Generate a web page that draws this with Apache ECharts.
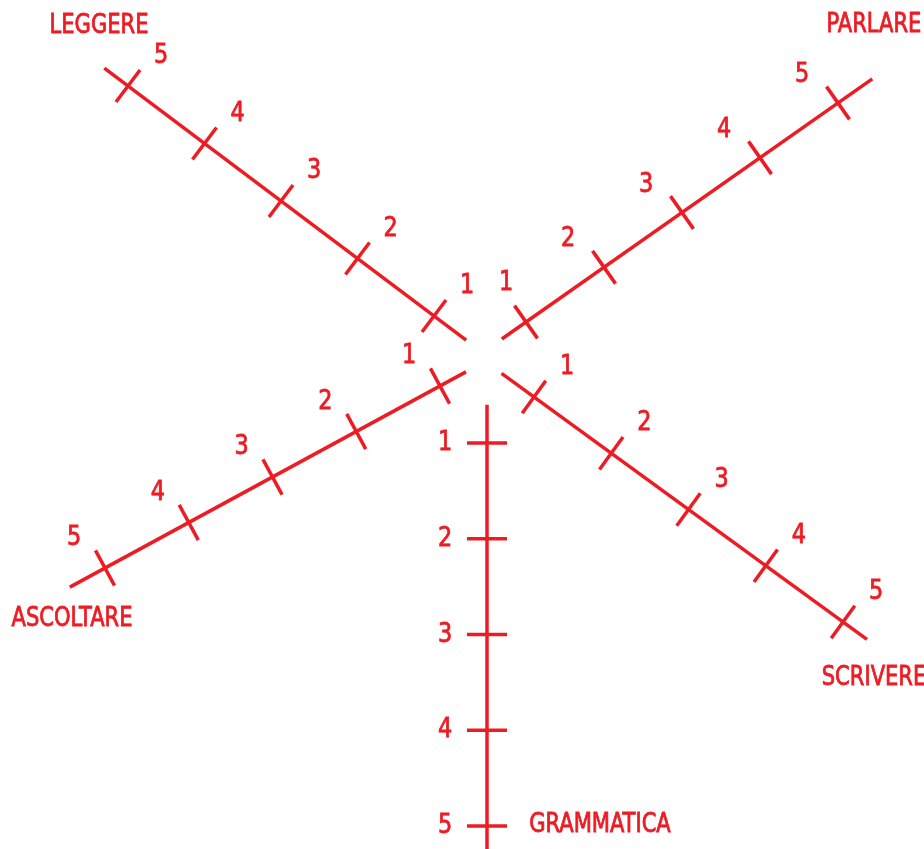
<!DOCTYPE html>
<meta charset="utf-8">
<script src="https://cdn.jsdelivr.net/npm/echarts@6.0.0/dist/echarts.min.js"></script>
<style>
  html, body { margin: 0; padding: 0; background: #fff; }
  #chart { width: 924px; height: 849px; }
</style>
<body>
<div id="chart"></div>
<script>

// data
var axisNames = ['LEGGERE', 'PARLARE', 'ASCOLTARE', 'SCRIVERE', 'GRAMMATICA'];
var tickValues = [1, 2, 3, 4, 5];
var tickLabels = ['1', '2', '3', '4', '5'];

var RED = '#ed1c24';
var FONT = '"DejaVu Sans Condensed", "Liberation Sans Narrow", sans-serif';

// layout of each axis: where value 1 sits, the step for one unit, how far the line runs
// past the first / last tick, where the numbers and the name go
var axisLayout = [
	{ x0: 434, y0: 316, dx: -76.5, dy: -57.5, pre: 0.42, post: 0.31, lab: [33, -30], name: [99, 26] },
	{ x0: 526, y0: 322, dx: 78, dy: -54.75, pre: 0.31, post: 0.44, lab: [-36, -28], lab1: [-20, -39], name: [874, 25] },
	{ x0: 440, y0: 386, dx: -83.75, dy: 45.5, pre: 0.31, post: 0.42, lab: [-31, -30], name: [72, 619] },
	{ x0: 534, y0: 397, dx: 77.25, dy: 56.25, pre: 0.42, post: 0.31, lab: [33, -30], name: [874, 678] },
	{ x0: 487, y0: 443, dx: 0, dy: 95.75, pre: 0.40, post: 0.25, lab: [-42, 0], name: [600, 825] }
];
var TICK_HALF = 20;

var renderAxis = function (params, api) {
	var i = params.dataIndex;
	var a = axisLayout[i];
	var at = function (v) { return [a.x0 + (v - 1) * a.dx, a.y0 + (v - 1) * a.dy]; };
	var len = Math.sqrt(a.dx * a.dx + a.dy * a.dy);
	var px = -a.dy / len, py = a.dx / len;
	var first = tickValues[0], last = tickValues[tickValues.length - 1];

	var s = api.coord(at(first - a.pre));
	var e = api.coord(at(last + a.post));
	var children = [{
		type: 'line',
		shape: { x1: s[0], y1: s[1], x2: e[0], y2: e[1] },
		style: { stroke: RED, lineWidth: 3.5 }
	}];

	tickValues.forEach(function (v, k) {
		var p = api.coord(at(v));
		children.push({
			type: 'line',
			shape: { x1: p[0] - px * TICK_HALF, y1: p[1] - py * TICK_HALF, x2: p[0] + px * TICK_HALF, y2: p[1] + py * TICK_HALF },
			style: { stroke: RED, lineWidth: 3.5 }
		});
		var off = (k == 0 && a.lab1) ? a.lab1 : a.lab;
		children.push({
			type: 'text',
			x: p[0] + off[0], y: p[1] + off[1], scaleX: 0.92,
			style: { text: tickLabels[k], fill: RED, font: '27px ' + FONT, align: 'center', verticalAlign: 'middle',
				stroke: RED, lineWidth: 0.8 }
		});
	});

	var n = api.coord(a.name);
	children.push({
		type: 'text',
		x: n[0], y: n[1], scaleX: 0.9,
		style: { text: axisNames[i], fill: RED, font: '26px ' + FONT, align: 'center', verticalAlign: 'middle',
			stroke: RED, lineWidth: 0.8 }
	});

	return { type: 'group', children: children };
};

var chart = echarts.init(document.getElementById('chart'));
var option = {
	animation: false,
	grid: { left: 0, right: 0, top: 0, bottom: 0 },
	xAxis: { type: 'value', min: 0, max: 924, show: false },
	yAxis: { type: 'value', min: 0, max: 849, inverse: true, show: false },
	series: [{
		type: 'custom',
		coordinateSystem: 'cartesian2d',
		renderItem: renderAxis,
		data: axisNames.map(function (name, i) { return [i, 0]; }),
		clip: false
	}]
};
chart.setOption(option);

</script>
</body>
